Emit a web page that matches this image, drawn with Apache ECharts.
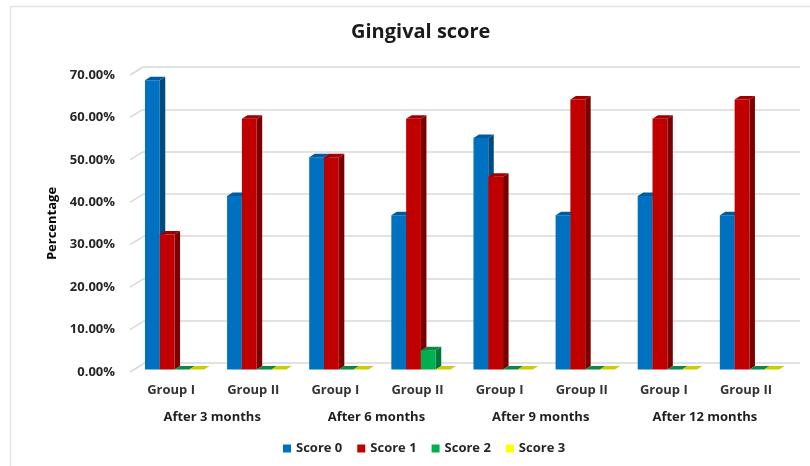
<!DOCTYPE html>
<html><head><meta charset="utf-8">
<style>html,body{margin:0;padding:0;background:#fff}#c{width:810px;height:466px;filter:blur(0.35px)}</style>
<script src="https://cdn.jsdelivr.net/npm/echarts@6/dist/echarts.min.js"></script>
</head><body><div id="c"></div>
<script>
const groups = ['Group I','Group II','Group I','Group II','Group I','Group II','Group I','Group II'];
const periods = ['After 3 months','After 6 months','After 9 months','After 12 months'];
const score0 = [68.18,40.91,50,36.36,54.55,36.36,40.91,36.36];
const score1 = [31.82,59.09,50,59.09,45.45,63.64,59.09,63.64];
const score2 = [0,0,0,4.55,0,0,0,0];
const score3 = [0,0,0,0,0,0,0,0];
const yTicks = [0,10,20,30,40,50,60,70];
const names = ['Score 0','Score 1','Score 2','Score 3'];
const values = [score0,score1,score2,score3];
const faces = ['#0070C0','#C00000','#00B050','#FFFF00'];
const sides = ['#004A80','#7A0000','#00753A','#AAAA00'];
const tops  = ['#005C9E','#A00000','#0A8A44','#CCCC00'];
const font = '"Open Sans"';
const barW = 14.8, dx = 5.5, dy = 3.5, shiftX = 3.5, shiftY = -2.5;

function bar3d(i){
  return function(params, api){
    const idx = api.value(0), v = api.value(1);
    const b = api.coord([idx,0]), t = api.coord([idx,v]);
    const x0 = b[0]+shiftX+(i-2)*barW, x1 = x0+barW, yb = b[1]+shiftY, yt = t[1]+shiftY;
    const kids = [];
    if (v>0){
      kids.push({type:'polygon',shape:{points:[[x1,yt],[x1+dx,yt-dy],[x1+dx,yb-dy],[x1,yb]]},style:{fill:sides[i]}});
      kids.push({type:'rect',shape:{x:x0,y:yt,width:barW,height:yb-yt},style:{fill:faces[i]}});
    }
    kids.push({type:'polygon',shape:{points:[[x0,yt],[x0+dx,yt-dy],[x1+dx,yt-dy],[x1,yt]]},style:{fill:tops[i]}});
    return {type:'group',children:kids};
  };
}
const barSeries = names.map((n,i)=>({
  name:n,type:'custom',xAxisIndex:0,yAxisIndex:0,z:5+i,
  renderItem:bar3d(i),
  itemStyle:{color:faces[i]},
  data:values[i].map((v,k)=>[k,v]),
  encode:{x:0,y:1},clip:false
}));
const chart = echarts.init(document.getElementById('c'),null,{renderer:'canvas'});
chart.setOption({
  animation:false,
  backgroundColor:'#fff',
  title:{text:'Gingival score',left:346,top:17,textStyle:{fontFamily:font,fontSize:20,fontWeight:'bold',color:'#1a1a1a'}},
  legend:{data:names.map((n,i)=>({name:n,icon:'rect',itemStyle:{color:faces[i]}})),left:278,top:437,itemWidth:8,itemHeight:8,itemGap:15,textStyle:{fontFamily:font,fontSize:13,fontWeight:'bold',color:'#262626',padding:[0,0,0,0]}},
  grid:[
    {left:130,top:75,width:657,height:297},
    {left:143,top:67,width:657,height:296}
  ],
  xAxis:[
    {type:'category',gridIndex:0,data:groups,axisLine:{show:false},axisTick:{show:false},axisLabel:{margin:10,padding:[2,0,0,0],fontFamily:font,fontSize:13,fontWeight:'bold',color:'#333'}},
    {type:'category',gridIndex:0,position:'bottom',offset:29,data:periods,axisLine:{show:false},axisTick:{show:false},axisLabel:{margin:10,fontFamily:font,fontSize:13,fontWeight:'bold',color:'#1f1f1f'}},
    {type:'category',gridIndex:1,data:groups,show:false}
  ],
  yAxis:[
    {type:'value',gridIndex:0,min:0,max:70,interval:10,name:'Percentage',nameLocation:'middle',nameGap:71,nameTextStyle:{fontFamily:font,fontSize:13,fontWeight:'bold',color:'#000'},
     axisLine:{show:false},axisTick:{show:false},splitLine:{show:false},
     axisLabel:{margin:15,padding:[5,0,0,0],formatter:v=>v.toFixed(2)+'%',fontFamily:font,fontSize:13,fontWeight:'bold',color:'#262626'}},
    {type:'value',gridIndex:1,min:0,max:70,interval:10,axisLine:{show:false},axisTick:{show:false},axisLabel:{show:false},splitLine:{show:true,lineStyle:{color:'#D9D9D9',width:1.5}}}
  ],
  series:[
    {type:'custom',xAxisIndex:0,yAxisIndex:0,z:1,silent:true,clip:false,
     renderItem:(p,api)=>{const c=api.coord([0,api.value(0)]);const x=130;
       return {type:'line',shape:{x1:x,y1:c[1],x2:x+13,y2:c[1]-8},style:{stroke:'#D9D9D9',lineWidth:1.5}};},
     data:yTicks.map(v=>[v]),encode:{y:0}},
    ...barSeries
  ],
  graphic:[
    {type:'line',z:0,silent:true,shape:{x1:10.5,y1:6,x2:10.5,y2:466},style:{stroke:'#E4E4E4',lineWidth:1.5}},
    {type:'line',z:0,silent:true,shape:{x1:10,y1:6.5,x2:810,y2:6.5},style:{stroke:'#E4E4E4',lineWidth:1.5}}
  ]
});
</script></body></html>
